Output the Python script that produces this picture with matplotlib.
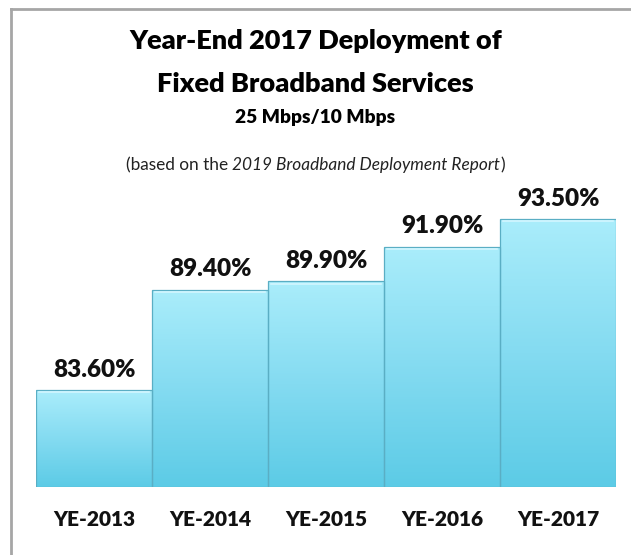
import matplotlib
matplotlib.use("Agg")
import matplotlib.pyplot as plt
import numpy as np
from matplotlib.colors import LinearSegmentedColormap
from matplotlib.offsetbox import TextArea, HPacker, AnchoredOffsetbox

categories = ["YE-2013", "YE-2014", "YE-2015", "YE-2016", "YE-2017"]
values = [83.6, 89.4, 89.9, 91.9, 93.5]
value_labels = ["83.60%", "89.40%", "89.90%", "91.90%", "93.50%"]

FONT = ["Lato", "DejaVu Sans"]
plt.rcParams['font.family'] = FONT
HEAVY = "heavy"

W, H = 631, 555
fig = plt.figure(figsize=(W / 100, H / 100), dpi=100)
fig.patch.set_facecolor("white")

# frame lines (top and left)
fig.add_artist(plt.Line2D([11 / W, 1], [1 - 9 / H, 1 - 9 / H], color="#a6a6a6", lw=2))
fig.add_artist(plt.Line2D([11 / W, 11 / W], [0, 1 - 9 / H], color="#a6a6a6", lw=2))

ymin, ymax = 78, 95
ppu = 17.27
ax_h = (ymax - ymin) * ppu
ax = fig.add_axes([36 / W, (H - 487) / H, 580 / W, ax_h / H])
ax.set_xlim(-0.5, 4.5)
ax.set_ylim(ymin, ymax)
ax.axis("off")

cmap = LinearSegmentedColormap.from_list("cy", ["#5ccbe6", "#84dbf1", "#aaedfb"])
grad = np.linspace(0, 1, 256).reshape(-1, 1)

bars = ax.bar(range(len(values)), [v - ymin for v in values], bottom=ymin, width=1.0,
              facecolor="none", edgecolor="#5aaec4", linewidth=0.9, zorder=3)
for b in bars:
    x0, y0 = b.get_x(), b.get_y()
    w, h = b.get_width(), b.get_height()
    im = ax.imshow(grad, extent=[x0, x0 + w, y0, y0 + h], origin="lower",
                   cmap=cmap, aspect="auto", zorder=2)
    im.set_clip_path(b)
    ax.plot([x0 + 0.03, x0 + w - 0.03], [y0 + h - 0.12, y0 + h - 0.12],
            color="#d2f6ff", lw=1.2, zorder=3)

for i, (v, lab) in enumerate(zip(values, value_labels)):
    ax.annotate(lab, (i, v), xytext=(0, 7), textcoords="offset points",
                ha="center", va="bottom", fontsize=17.5, fontweight=HEAVY,
                color="#111111")

for i, c in enumerate(categories):
    x_pix = 36 + (i + 0.5) * 116
    fig.text(x_pix / W, 1 - 519 / H, c, ha="center", va="center",
             fontsize=15, fontweight=HEAVY, color="#111111")

fig.text(0.5, 1 - 41 / H, "Year-End 2017 Deployment of", ha="center", va="center",
         fontsize=19.5, fontweight=HEAVY, color="black")
fig.text(0.5, 1 - 84 / H, "Fixed Broadband Services", ha="center", va="center",
         fontsize=19.5, fontweight=HEAVY, color="black")
fig.text(0.5, 1 - 118 / H, "25 Mbps/10 Mbps", ha="center", va="center",
         fontsize=13.8, fontweight=HEAVY, color="black")

t1 = "(based on the "
t2 = "2019 Broadband Deployment Report"
t3 = ")"
ta1 = TextArea(t1, textprops=dict(fontsize=12.4, color="#222222", family=FONT))
ta2 = TextArea(t2, textprops=dict(fontsize=12.4, color="#222222", style="italic", family=FONT))
ta3 = TextArea(t3, textprops=dict(fontsize=12.4, color="#222222", family=FONT))
pack = HPacker(children=[ta1, ta2, ta3], align="baseline", pad=0, sep=0)
abox = AnchoredOffsetbox(loc="center", child=pack, frameon=False,
                         bbox_to_anchor=(0.5, 1 - 165 / H), bbox_transform=fig.transFigure,
                         borderpad=0, pad=0)
fig.add_artist(abox)

fig.savefig("out.png", dpi=100, facecolor="white")
